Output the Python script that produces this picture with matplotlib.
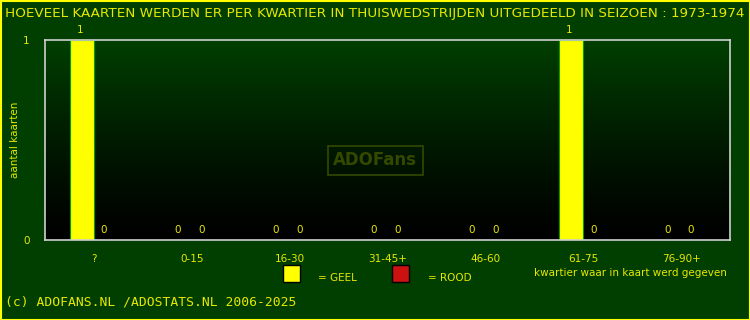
import numpy as np
import matplotlib
matplotlib.use("Agg")
import matplotlib.pyplot as plt
from matplotlib.patches import Rectangle
from matplotlib.colors import LinearSegmentedColormap

categories = ["?", "0-15", "16-30", "31-45+", "46-60", "61-75", "76-90+"]
geel = [1, 0, 0, 0, 0, 1, 0]
rood = [0, 0, 0, 0, 0, 0, 0]
title = "HOEVEEL KAARTEN WERDEN ER PER KWARTIER IN THUISWEDSTRIJDEN UITGEDEELD IN SEIZOEN : 1973-1974"

BG = "#003f00"
TXT = "#e8e800"

fig = plt.figure(figsize=(7.5, 3.2), dpi=100, facecolor=BG)
ax = fig.add_axes([45/750, 80/320, 685/750, 200/320])
ax.set_facecolor(BG)

# gradient background
grad = np.linspace(0, 1, 256).reshape(-1, 1) ** 1.2
cmap = LinearSegmentedColormap.from_list("g", ["#000000", "#003f00"])
ax.imshow(grad, extent=[0, 7, 0, 1], origin="lower", aspect="auto", cmap=cmap, zorder=0)

x = np.arange(len(categories))
w = 0.245
ax.bar(x + 0.5 - w/2, geel, width=w, color="#ffff00", edgecolor="#00a000", linewidth=0.8, zorder=2)
ax.bar(x + 0.5 + w/2, rood, width=w, color="#cc1111", edgecolor="#00a000", linewidth=0.8, zorder=2)

for i in range(len(categories)):
    ax.annotate(str(geel[i]), (x[i] + 0.5 - w/2 - 0.02, geel[i]), xytext=(0, 7), textcoords="offset points",
                ha="center", va="center", color=TXT, fontsize=7.5, annotation_clip=False)
    ax.annotate(str(rood[i]), (x[i] + 0.5 + w/2 - 0.02, rood[i]), xytext=(0, 7), textcoords="offset points",
                ha="center", va="center", color=TXT, fontsize=7.5, annotation_clip=False)

ax.set_xlim(0, 7)
ax.set_ylim(0, 1)
ax.set_xticks(x + 0.5)
ax.set_xticklabels(categories)
ax.set_yticks([0, 1])
ax.set_yticklabels(["0", "1"])
ax.tick_params(length=0, colors=TXT, labelsize=7.5)
ax.tick_params(axis="x", pad=10)
ax.tick_params(axis="y", pad=11)
for s in ax.spines.values():
    s.set_color("#d0d0d0")
    s.set_linewidth(1.2)

fig.text(15/750, 1 - 140/320, "aantal kaarten", rotation=90, ha="center", va="center", color=TXT, fontsize=7.5)
fig.text(5/750, 1 - 13/320, title, ha="left", va="center", color=TXT, fontsize=9.7)

# legend
fig.patches.append(Rectangle((283/750, 1 - 282/320), 17/750, 17/320, transform=fig.transFigure,
                             facecolor="#ffff00", edgecolor="black", linewidth=1))
fig.text(318/750, 1 - 278/320, "= GEEL", ha="left", va="center", color=TXT, fontsize=7.5)
fig.patches.append(Rectangle((392/750, 1 - 282/320), 17/750, 17/320, transform=fig.transFigure,
                             facecolor="#cc1111", edgecolor="black", linewidth=1))
fig.text(428/750, 1 - 278/320, "= ROOD", ha="left", va="center", color=TXT, fontsize=7.5)
fig.text(727/750, 1 - 273/320, "kwartier waar in kaart werd gegeven", ha="right", va="center", color=TXT, fontsize=7.5)

fig.text(5/750, 1 - 302/320, "(c) ADOFANS.NL /ADOSTATS.NL 2006-2025", ha="left", va="center",
         color=TXT, fontsize=9.4, family="DejaVu Sans Mono")

# watermark
fig.text(375/750, 1 - 160/320, "ADOFans", ha="center", va="center", color="#344800", fontsize=12,
         fontweight="bold", bbox=dict(facecolor="none", edgecolor="#344800", linewidth=1.2, pad=4))

# outer border
fig.patches.append(Rectangle((0.5/750, 0.5/320), 749/750, 319/320, transform=fig.transFigure,
                             facecolor="none", edgecolor="#ffff00", linewidth=1.5))

fig.savefig("out.png", dpi=100, facecolor=BG)
